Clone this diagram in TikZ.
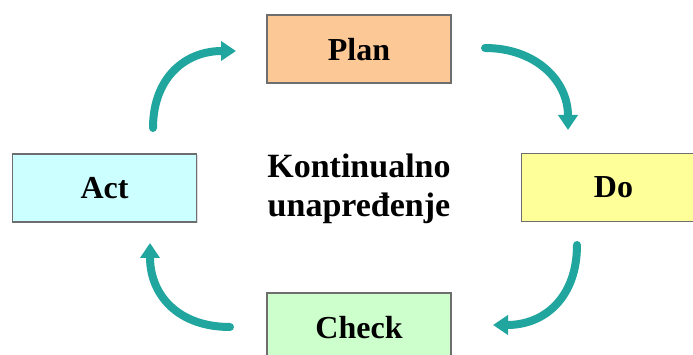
\documentclass[tikz,border=0pt]{standalone}
\usepackage{fontspec}
\setmainfont{Liberation Serif}
\usetikzlibrary{arrows.meta,shadows}
\definecolor{teal1}{RGB}{32,166,158}
\definecolor{planfill}{RGB}{252,200,150}
\definecolor{actfill}{RGB}{204,255,255}
\definecolor{dofill}{RGB}{255,255,153}
\definecolor{checkfill}{RGB}{204,255,204}
\definecolor{boxline}{RGB}{110,110,110}
\tikzset{
  phase/.style={rectangle, draw=boxline, line width=1.6pt, minimum width=184pt,
    minimum height=68pt, inner sep=0pt, text depth=0pt,
    font=\bfseries\fontsize{32}{38}\selectfont,
    drop shadow={opacity=0.25, shadow xshift=1pt, shadow yshift=-1pt}},
  cyc/.style={draw=teal1, line width=8pt, line cap=round,
    -{Triangle[length=15pt,width=19pt]}},
  midtext/.style={align=center, inner sep=0pt,
    font=\bfseries\fontsize{34}{39}\selectfont}
}
\begin{document}
\begin{tikzpicture}[x=1pt,y=-1pt]
\useasboundingbox (0,0) rectangle (693,355);
\clip (0,0) rectangle (693,355);
\fill[white] (0,0) rectangle (693,355);
\node[phase, fill=planfill] (plan) at (359,49) {Plan};
\node[phase, fill=actfill] (act) at (104.5,188) {Act};
\node[phase, fill=dofill] (do) at (613.5,187.5) {Do};
\node[phase, fill=checkfill] (check) at (359,327) {Check};
\node[midtext] (center) at (359,188.7) {Kontinualno\\unapređenje};
% arrow end points
\coordinate (a1s) at (153,128);
\coordinate (a1e) at (236,51);
\coordinate (a2s) at (485,48);
\coordinate (a2e) at (568,130);
\coordinate (a3s) at (577,245);
\coordinate (a3e) at (493,325);
\coordinate (a4s) at (230,327);
\coordinate (a4e) at (150,243);
\draw[cyc] (a1s) .. controls (153,78) and (185,51) .. (a1e);
\draw[cyc] (a2s) .. controls (535,48) and (568,80) .. (a2e);
\draw[cyc] (a3s) .. controls (577,297) and (545,325) .. (a3e);
\draw[cyc] (a4s) .. controls (178,327) and (150,295) .. (a4e);
\end{tikzpicture}
\end{document}
